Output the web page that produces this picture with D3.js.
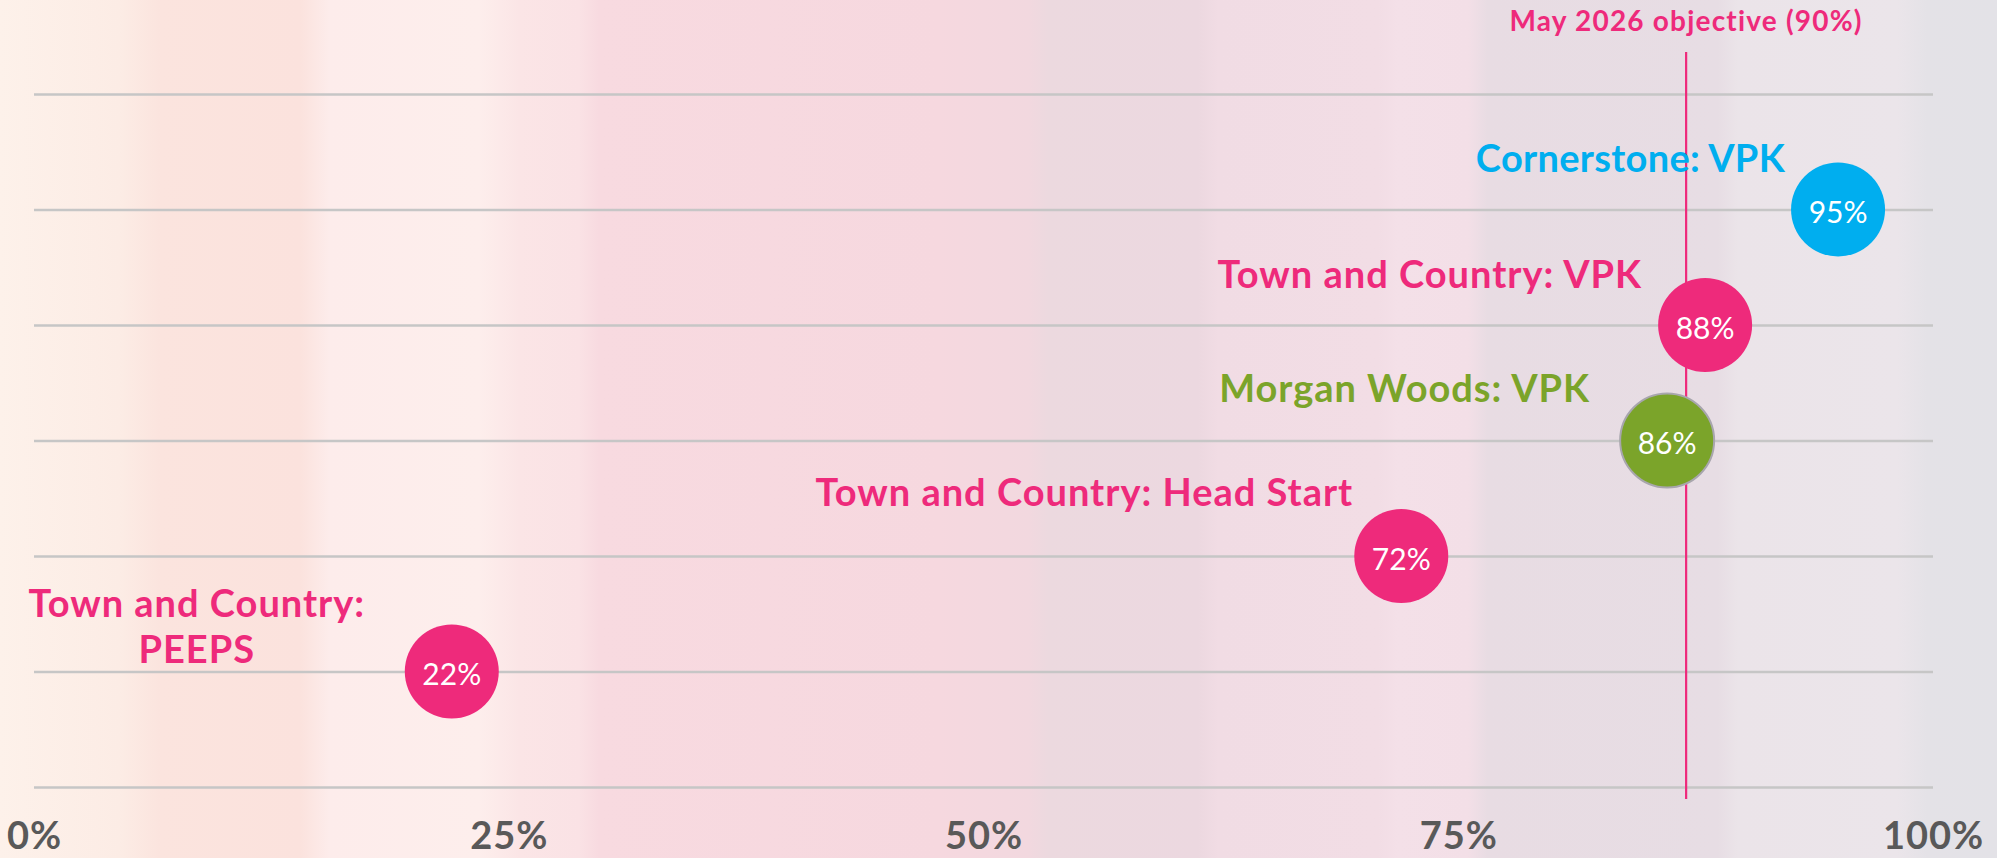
<!DOCTYPE html>
<html lang="en">
<head>
<meta charset="UTF-8">
<title>May 2026 objective</title>
<style>
  html, body { margin: 0; padding: 0; background: #f5e3e6; }
  svg { display: block; }
  .tick-label { font-family: Lato, "Open Sans", sans-serif; font-weight: 700; fill: #595959; }
  .cat-label { font-family: Lato, "Open Sans", sans-serif; font-weight: 700; }
  .val-label { font-family: Lato, "Open Sans", sans-serif; font-weight: 400; fill: #fff; }
</style>
</head>
<body>
<script src="https://d3js.org/d3.v7.min.js"></script>
<script>
  // data, top row to bottom row
  const categories = ['Cornerstone: VPK', 'Town and Country: VPK', 'Morgan Woods: VPK', 'Town and Country: Head Start', 'Town and Country: PEEPS'];
  const values = [95, 88, 86, 72, 22];
  const groups = ['blue', 'pink', 'green', 'pink', 'pink'];
  const xTicks = [0, 25, 50, 75, 100];
  const objectiveValue = 87;   // where the line sits in the picture
  const objectiveText = 'May 2026 objective (90%)';

  const colors = { pink: '#ee2a7b', blue: '#00aeef', green: '#7ba42a' };

  // label placement relative to each circle (right edge, baseline)
  const labelLayout = [
    { dx: -53, dy: -38, ls: 0.3 },
    { dx: -63, dy: -37, ls: 1 },
    { dx: -77, dy: -39, ls: 1 },
    { dx: -48, dy: -50, ls: 1 },
    { dx: -255, dy: -55, ls: 1, center: true, lines: ['Town and Country:', 'PEEPS'] }
  ];

  const w = 1997;
  const h = 858;
  const r = 47;

  const svg = d3.select('body').append('svg')
    .attr('width', w)
    .attr('height', h);

  // striped pastel background
  const bgStops = [
    [0, '#fdf1ea'], [0.06, '#fcece5'], [0.08, '#fbe4de'], [0.15, '#fbe2dd'],
    [0.165, '#fdeceb'], [0.24, '#fdeeec'], [0.26, '#fbe5e6'], [0.29, '#fae2e5'],
    [0.30, '#f8dae0'], [0.47, '#f6d8df'], [0.515, '#f2d8df'], [0.525, '#ecd9df'],
    [0.60, '#ecd8e0'], [0.61, '#f1dce4'], [0.69, '#f2dde5'], [0.70, '#f4e0e8'],
    [0.735, '#f3dfe7'], [0.745, '#e8dce3'], [0.86, '#e7dde4'], [0.87, '#ebe4e9'],
    [0.95, '#ebe5ea'], [0.965, '#e4e2e7'], [1, '#e3e2e7']
  ];
  const grad = svg.append('defs').append('linearGradient')
    .attr('id', 'bg')
    .attr('x1', 0).attr('x2', 1).attr('y1', 0).attr('y2', 0);
  grad.selectAll('stop').data(bgStops).enter().append('stop')
    .attr('offset', d => d[0])
    .attr('stop-color', d => d[1]);
  svg.append('rect').attr('width', w).attr('height', h).attr('fill', 'url(#bg)');

  const xScale = d3.scaleLinear().domain([0, 100]).range([34, 1933]);
  const yScale = d3.scaleLinear().domain([0, categories.length + 1]).range([94, 787]);

  // horizontal grid lines
  const grid = svg.append('g')
    .attr('transform', `translate(${xScale(0)},0)`)
    .call(d3.axisLeft(yScale)
      .tickValues(d3.range(categories.length + 2))
      .tickSize(-(xScale(100) - xScale(0)))
      .tickFormat(''));
  grid.select('.domain').remove();
  grid.selectAll('.tick line').attr('stroke', '#c6c6c6').attr('stroke-width', 2.5);

  // x axis labels
  const xAxis = svg.append('g')
    .call(d3.axisBottom(xScale).tickValues(xTicks).tickSize(0).tickFormat(d => d + '%'));
  xAxis.select('.domain').remove();
  xAxis.selectAll('.tick text')
    .attr('class', 'tick-label')
    .attr('y', 849)
    .attr('dy', 0)
    .style('font-size', '38px')
    .style('letter-spacing', '1px');

  // objective line
  svg.append('line')
    .attr('x1', xScale(objectiveValue)).attr('x2', xScale(objectiveValue))
    .attr('y1', 52).attr('y2', 799)
    .attr('stroke', colors.pink)
    .attr('stroke-width', 2.2);
  svg.append('text')
    .attr('class', 'cat-label')
    .attr('x', xScale(objectiveValue))
    .attr('y', 31)
    .attr('text-anchor', 'middle')
    .style('font-size', '28px')
    .style('letter-spacing', '1.2px')
    .attr('fill', colors.pink)
    .text(objectiveText);

  const rows = categories.map((c, i) => ({
    name: c, value: values[i], color: colors[groups[i]], group: groups[i], row: i + 1, lay: labelLayout[i]
  }));

  // category labels
  const labels = svg.selectAll('.cat')
    .data(rows).enter().append('text')
    .attr('class', 'cat-label cat')
    .attr('fill', d => d.color)
    .style('font-size', '38px')
    .style('letter-spacing', d => d.lay.ls + 'px')
    .attr('text-anchor', d => d.lay.center ? 'middle' : 'end')
    .attr('x', d => xScale(d.value) + d.lay.dx)
    .attr('y', d => yScale(d.row) + d.lay.dy);
  labels.each(function(d) {
    const t = d3.select(this);
    if (d.lay.lines) {
      d.lay.lines.forEach((ln, k) => {
        t.append('tspan')
          .attr('x', xScale(d.value) + d.lay.dx)
          .attr('dy', k === 0 ? 0 : 46)
          .text(ln);
      });
    } else {
      t.text(d.name);
    }
  });

  // value circles
  const dots = svg.selectAll('.dot')
    .data(rows).enter().append('g')
    .attr('class', 'dot')
    .attr('transform', d => `translate(${xScale(d.value)},${yScale(d.row)})`);
  dots.append('circle')
    .attr('r', r)
    .attr('fill', d => d.color)
    .attr('stroke', d => d.group === 'green' ? '#a8a6ad' : 'none')
    .attr('stroke-width', 2);
  dots.append('text')
    .attr('class', 'val-label')
    .attr('text-anchor', 'middle')
    .attr('y', 13.5)
    .style('font-size', '30px')
    .text(d => d.value + '%');
</script>
</body>
</html>
